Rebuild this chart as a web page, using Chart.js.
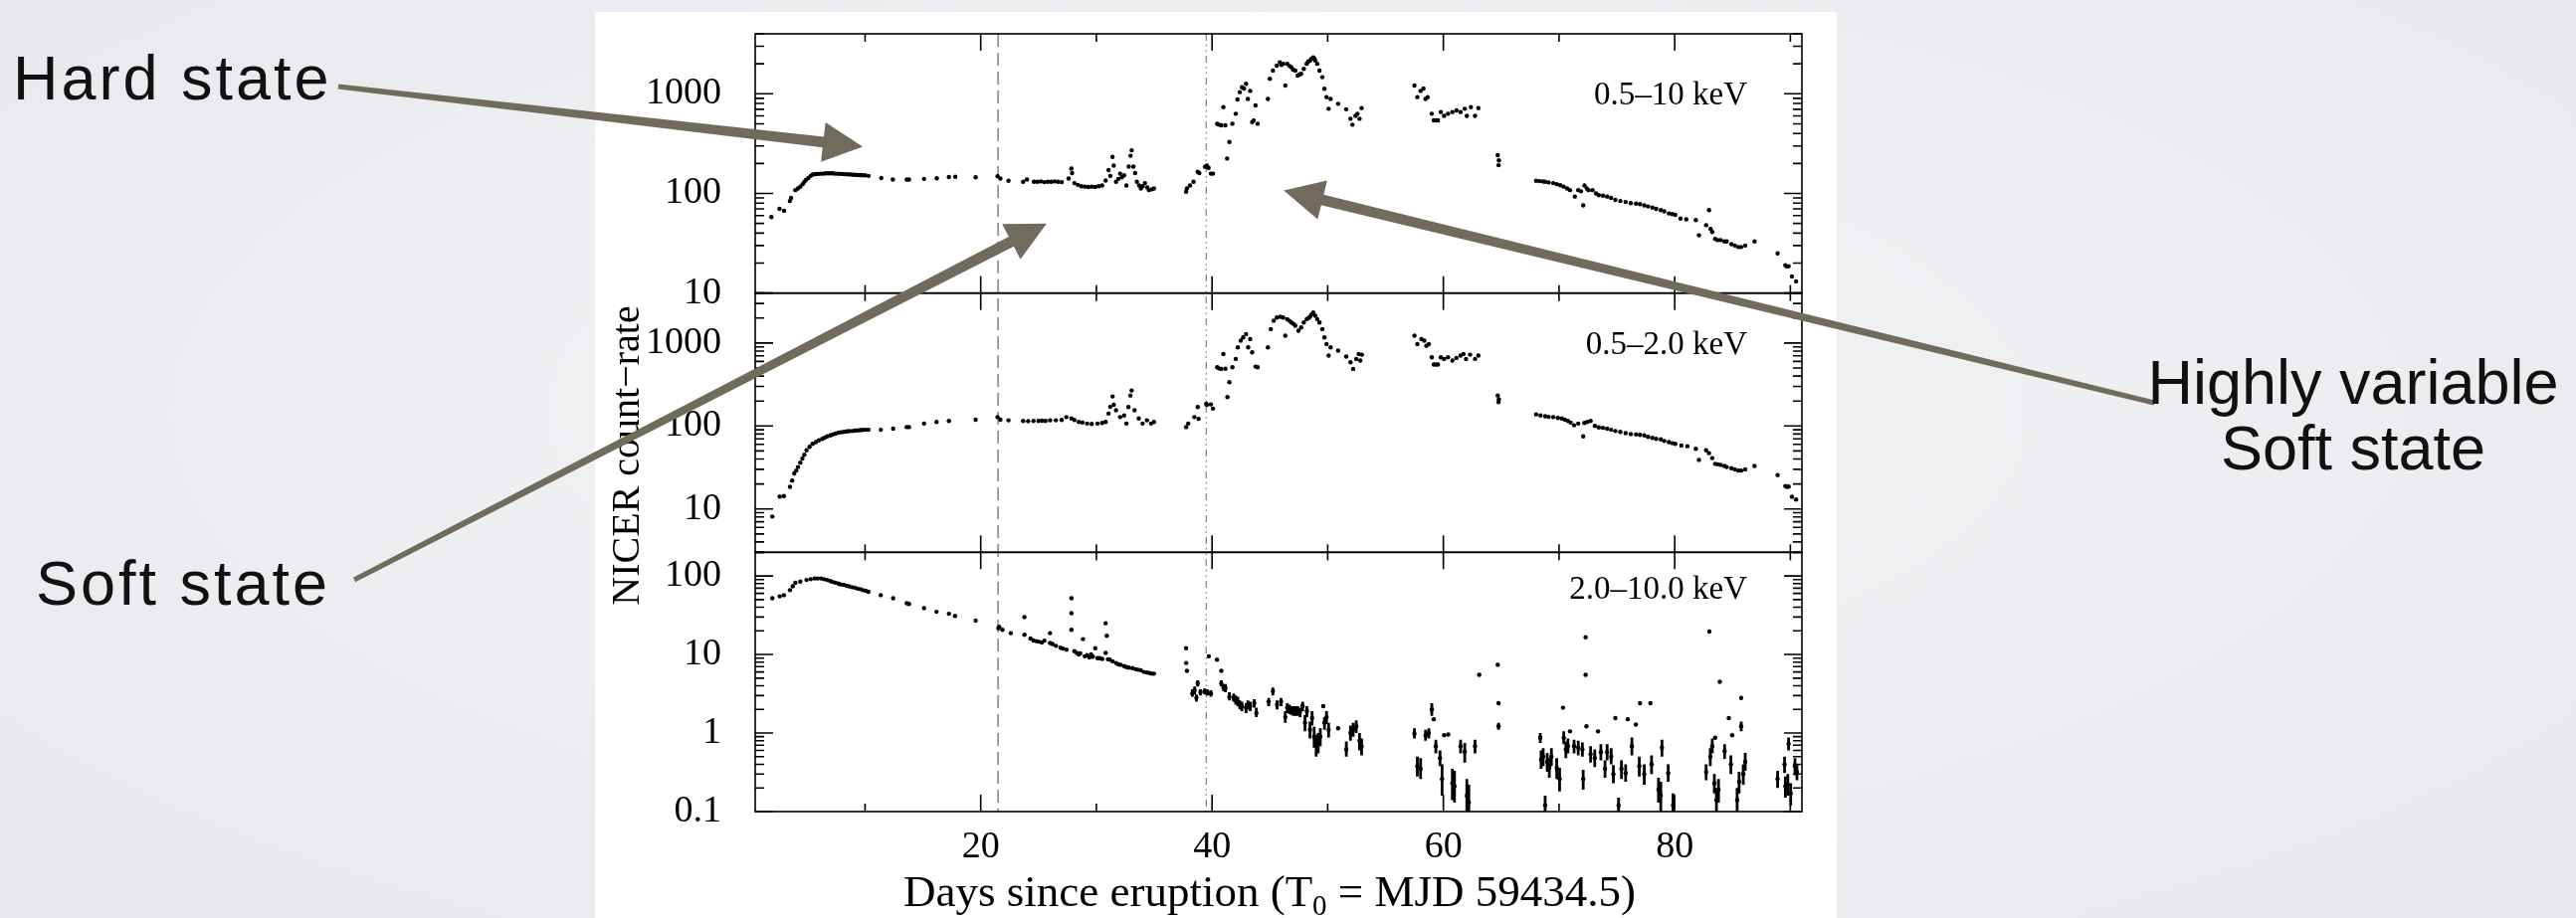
<!DOCTYPE html>
<html>
<head>
<meta charset="utf-8">
<script src="https://cdn.jsdelivr.net/npm/chart.js@4.4.1/dist/chart.umd.min.js"></script>
<style>
  html, body { margin: 0; padding: 0; }
  body {
    width: 2589px; height: 923px; overflow: hidden; position: relative;
    background: radial-gradient(ellipse at 50% 45%, #f3f4f6 0%, #e6e8eb 100%);
    font-family: "Liberation Sans", Arial, sans-serif;
  }
  #sheet { position: absolute; left: 598px; top: 12px; width: 1248px; height: 911px; background: #fff; }
  #lc { position: absolute; left: 0; top: 0; }
  .note { position: absolute; font-size: 63px; line-height: 63px; color: #111; white-space: nowrap; }
  .right { left: 2065px; width: 600px; text-align: center; line-height: 66px; top: 351px; }
</style>
</head>
<body>
<div id="sheet"></div>
<canvas id="lc" width="2589" height="923"></canvas>
<div class="note" style="left:13px; top:47px; letter-spacing:3px">Hard state</div>
<div class="note" style="left:36px; top:555px; letter-spacing:3px">Soft state</div>
<div class="note right">Highly variable<br>Soft state</div>
<script>
// NICER light curves, [day since eruption, count rate]
const band1 = [
  [1.9,58],[2.6,70],[3.0,67],[3.5,84],[3.6,90],[3.97,108],[4.2,112],[4.4,117],[4.6,124],[4.76,131],[4.9,137],[5.1,143],
  [5.3,150],[5.47,155],[5.65,156],[5.83,157],[6.0,157],[6.2,158],[6.4,158],[6.6,159],[6.8,159],[7.0,159],[7.2,159],
  [7.4,158],[7.6,158],[7.8,157],[8.0,157],[8.2,156],[8.4,156],[8.6,155],[8.8,155],[9.0,154],[9.2,154],[9.4,153],
  [9.6,153],[9.8,152],[10.0,152],[10.3,150],
  [11.4,143],[12.4,138],[13.6,138],[13.8,138],[15.1,140],[16.2,142],[17.25,146],[17.8,147],[19.56,145],[21.46,149],
  [21.7,141],[22.4,134],[23.67,131],[24.0,138],[24.6,131],[24.9,131],[25.2,132],[25.5,130],[25.8,131],[26.1,131],
  [26.4,132],[26.7,131],[27.0,130],[27.6,141],[27.84,178],[27.9,160],[28.1,127],[28.4,122],[28.7,118],[29.0,117],
  [29.3,116],[29.6,117],[29.9,116],[30.2,118],[30.5,120],[30.8,135],[31.05,172],[31.2,150],[31.4,233],[31.5,190],
  [31.7,131],[31.9,140],[32.05,158],[32.2,145],[32.4,152],[32.6,120],[32.8,186],[32.95,239],[33.05,271],[33.2,186],
  [33.35,160],[33.5,131],[33.7,120],[33.85,112],[34.0,118],[34.2,127],[34.4,115],[34.55,108],[34.8,110],[34.98,112],
  [37.76,104],[37.83,112],[38.1,120],[38.4,131],[38.76,165],[38.9,160],[39.4,185],[39.55,190],[39.7,181],[39.9,158],
  [40.08,158],
  [40.44,500],[40.6,490],[40.8,482],[40.98,736],[41.15,482],[41.3,224],[41.5,329],[41.76,501],[42.05,631],[42.2,878],
  [42.4,1039],[42.58,1166],[42.76,1130],[42.94,1259],[43.1,887],[43.3,1069],[43.47,521],[43.6,540],[43.76,764],
  [43.94,501],
  [44.83,887],[45.0,1413],[45.26,1711],[45.6,1920],[45.86,2074],[46.0,1950],[46.15,2000],[46.33,1211],[46.5,2000],
  [46.7,1900],[46.86,1848],[47.0,1750],[47.2,1711],[47.4,1525],[47.55,1560],[47.7,1585],[47.93,1778],[48.18,2000],
  [48.3,2100],[48.47,2154],[48.6,2250],[48.75,2326],[48.85,2250],[48.93,2154],[49.1,2000],[49.29,1711],[49.54,1468],
  [49.72,1122],[49.9,926],[50.08,708],[50.25,887],[50.9,794],[51.6,700],[51.97,562],[52.14,490],[52.4,600],
  [52.57,631],[52.75,562],[52.93,719],
  [57.5,1211],[57.75,926],[58.03,1069],[58.28,1130],[58.46,887],[58.64,926],[59.0,631],[59.17,541],[59.35,541],
  [59.53,541],[59.78,656],[60.06,600],[60.4,631],[60.78,656],[61.13,681],[61.49,656],[61.85,708],[62.03,600],
  [62.38,736],[62.74,600],[63.03,719],
  [64.7,242],[64.77,192],[64.8,215],
  [68.02,134],[68.3,133],[68.6,132],[68.8,131],[69.1,129],[69.5,127],[69.8,124],[70.1,121],[70.4,117],[70.7,112],
  [70.95,108],[71.37,93],[71.66,108],[71.9,105],[72.09,76],[72.2,120],[72.4,112],[72.55,108],[72.9,108],[73.2,100],
  [73.44,96],[73.8,95],[74.16,93],[74.5,90],[74.87,86],[75.3,84],[75.76,82],[76.2,80],[76.65,79],[77.0,78],
  [77.37,76],[77.7,74],[78.08,72],[78.4,70],[78.8,68],[79.1,66],[79.5,63],[79.8,62],[80.05,61],[80.5,56],[81.0,55],
  [81.83,54],[82.1,38],[82.72,48],[82.97,68],[83.1,44],[83.25,41],[83.5,35],[83.7,34],[83.97,34],[84.3,33],[84.5,33],
  [84.9,31],[85.2,30],[85.5,29],[85.75,29],[86.1,30],[86.9,33],[88.9,25],[89.57,19],[89.7,18.5],[89.85,18.6],
  [90.14,14.7],[90.5,13.1]
];

const band2 = [
  [1.98,8.1],[2.62,14.1],[2.98,14.3],[3.51,18.5],[3.7,22],[3.87,26.8],[4.05,29],[4.2,32],[4.4,36],[4.58,40.5],
  [4.75,45],[4.94,51],[5.2,56],[5.47,61],[5.75,64],[6.0,67],[6.3,70],[6.5,72],[6.72,75],[7.0,77],[7.2,79],[7.44,81],
  [7.7,83],[7.9,84],[8.15,85],[8.4,86],[8.6,86.5],[8.86,87],[9.1,88],[9.35,88.5],[9.58,89],[9.8,89.5],[10.05,90],
  [10.29,90],
  [11.36,90],[12.43,93],[13.6,97],[13.8,97],[15.1,107],[16.18,112],[17.25,115],[19.56,119],[21.46,128],[21.7,119],
  [22.4,117],[23.67,115],[24.1,114],[24.56,115],[25.0,115],[25.3,116],[25.6,115],[26.0,117],[26.5,117],[27.0,118],
  [27.4,128],[27.84,123],[28.1,118],[28.48,112],[28.8,110],[29.2,107],[29.6,106],[30.1,107],[30.5,109],[30.8,112],
  [31.05,141],[31.2,170],[31.4,227],[31.5,180],[31.7,155],[32.05,128],[32.4,134],[32.6,107],[32.77,169],[32.94,233],
  [33.05,268],[33.3,155],[33.66,123],[34.0,107],[34.37,117],[34.73,107],[34.98,112],
  [37.76,97],[37.94,107],[38.47,128],[38.76,169],[38.84,122],[39.5,185],[39.55,180],[39.9,182],[40.08,162],
  [40.44,510],[40.6,495],[40.8,488],[40.98,738],[41.16,490],[41.33,223],[41.5,337],[41.76,510],[42.05,643],
  [42.23,887],[42.48,1067],[42.69,1170],[42.94,1282],[43.12,887],[43.3,1117],[43.47,773],[43.76,520],[43.94,510],
  [44.83,887],[45.08,1472],[45.33,1854],[45.6,2032],[45.9,2070],[46.15,2032],[46.33,1225],[46.5,1940],[46.7,1850],
  [46.86,1770],[47.05,1700],[47.2,1614],[47.47,1406],[47.7,1540],[47.93,1770],[48.18,1940],[48.35,2000],[48.47,2070],
  [48.6,2200],[48.75,2333],[48.93,2128],[49.1,1940],[49.29,1770],[49.54,1472],[49.72,1170],[49.9,973],[50.08,705],
  [50.25,887],[50.9,809],[51.6,686],[51.97,586],[52.2,488],[52.47,643],[52.68,738],[52.82,614],[52.96,724],
  [57.5,1225],[57.75,973],[58.1,1117],[58.35,1067],[58.53,926],[58.74,973],[59.0,673],[59.17,550],[59.35,550],
  [59.53,550],[59.78,673],[60.06,643],[60.4,673],[60.78,614],[61.13,661],[61.49,705],[61.74,738],[61.96,643],
  [62.31,724],[62.74,643],[63.03,705],
  [64.7,233],[64.77,194],[64.8,210],
  [68.02,138],[68.4,134],[68.8,131],[69.1,129],[69.5,128],[69.9,125],[70.24,123],[70.5,119],[70.77,115],[71.0,110],
  [71.3,102],[71.66,107],[72.09,75],[72.2,109],[72.45,112],[72.73,115],[73.1,100],[73.44,96],[73.8,95],[74.16,93],
  [74.5,90],[74.87,87],[75.3,85],[75.76,82],[76.2,80],[76.65,79],[77.0,78],[77.37,77],[77.7,74],[78.08,72],[78.4,70],
  [78.8,69],[79.1,66],[79.5,64],[79.8,62],[80.05,61],[80.58,58],[81.1,57],[81.83,53],[82.1,39],[82.72,51],[82.97,47],
  [83.25,41],[83.5,35],[83.7,34.5],[83.97,34],[84.3,33],[84.5,32],[84.9,31],[85.2,30],[85.5,29],[85.75,29],[86.1,30],
  [86.9,33],[88.9,25.6],[89.57,18.9],[89.7,18.5],[89.85,18.6],[90.14,14],[90.5,13]
];

// hard band: [day, rate] or [day, rate, errLow, errHigh]
const band3 = [
  [1.98,52],[2.62,55],[2.98,57],[3.51,66],[3.75,74],[3.97,82],[4.4,85],[4.94,89],[5.3,91],[5.65,93],[5.9,93],
  [6.19,93],[6.45,91],[6.72,89],[7.0,86],[7.2,84],[7.44,82],[7.7,80],[7.9,78],[8.15,77],[8.4,75],[8.6,74],[8.86,72],
  [9.1,71],[9.35,69],[9.58,68],[9.8,66],[10.05,65],[10.29,63],
  [11.36,57],[12.43,52],[13.6,45],[13.8,44],[15.1,39],[16.18,35],[17.25,33],[17.78,31],[19.56,27],[21.53,21.6],
  [21.6,22.5],[21.88,20.6],[22.6,18.7],[23.78,30],[23.78,17.8],[24.3,16],[24.56,15.1],[24.8,14.8],[25.0,14.6],
  [25.28,14.2],[25.5,15],[25.99,18.7],[25.99,14],[26.2,13.6],[26.5,12.9],[26.9,12.2],[27.1,11.9],[27.41,11.5],
  [27.84,52],[27.84,33.6],[27.84,20.6],[28.1,11],[28.3,10.5],[28.48,10],[28.6,10.3],[28.84,15.7],[29.0,9.5],[29.2,9.8],
  [29.4,9.2],[29.55,10],[29.7,9.4],[29.9,12],[30.1,9.0],[30.27,9],[30.5,8.8],[30.8,25],[30.8,10.5],[30.9,17.3],
  [31.0,8.7],[31.16,8.6],[31.4,8.2],[31.7,7.8],[31.9,7.5],[32.1,7.4],[32.4,7.1],[32.6,6.9],[32.8,6.8],[33.12,6.7],
  [33.4,6.5],[33.6,6.4],[33.84,6.3],[34.1,6.0],[34.37,5.9],[34.6,5.8],[34.8,5.7],[34.98,5.7],
  [37.76,12],[37.76,7.8],[37.83,6.2],[38.3,3.2,2.9,3.6],[38.5,3.5,3.1,3.9],[38.65,2.8,2.5,3.1],[38.76,4.3,3.9,4.7],
  [39.0,3.3,3.0,3.6],[39.36,3.4,3.1,3.7],[39.6,3.3,3.0,3.6],[39.72,9.5],[39.9,3.2,2.9,3.5],[40.43,8.6],[40.8,6.2],
  [40.8,4.3,3.9,4.7],[41.0,3.8,3.4,4.2],[41.16,3.75,3.3,4.2],[41.5,2.9,2.6,3.3],[41.87,2.8,2.5,3.2],[42.05,2.6,2.3,3.0],
  [42.23,2.5,2.2,2.9],[42.4,2.3,2.0,2.6],[42.58,2.2,1.9,2.5],[42.94,2.1,1.8,2.4],[43.1,2.3,2.0,2.6],[43.3,2.2,1.9,2.5],
  [43.65,2.4,2.1,2.7],[43.83,1.8,1.6,2.1],[44.9,2.5,2.2,2.8],[45.26,3.4,3.0,3.8],[45.62,2.3,2.0,2.6],[45.97,2.5,2.2,2.8],
  [46.33,1.6,1.35,1.9],[46.5,2.1,1.8,2.4],[46.69,2.0,1.75,2.3],[46.86,1.95,1.7,2.2],[47.04,1.9,1.65,2.2],
  [47.2,1.9,1.65,2.2],[47.4,1.9,1.65,2.2],[47.6,1.85,1.6,2.1],[47.83,2.2,1.9,2.5],[48.04,1.35,1.05,1.7],
  [48.2,1.9,1.6,2.2],[48.47,1.1,0.85,1.4],[48.65,1.55,1.25,1.9],[48.83,0.9,0.65,1.2],[49.0,0.68,0.5,0.95],
  [49.18,0.75,0.55,1.0],[49.36,0.9,0.68,1.15],[49.61,2.2],[49.72,1.35,1.1,1.6],[49.9,1.6,1.3,1.9],[50.08,1.1,0.88,1.35],
  [50.9,1.15],[51.61,0.62,0.5,0.78],[51.97,1.0,0.8,1.25],[52.2,1.1,0.9,1.35],[52.47,1.22,1.0,1.45],[52.75,0.8,0.6,1.0],
  [52.93,0.68,0.52,0.85],
  [57.5,0.98,0.85,1.15],[57.75,0.38,0.28,0.5],[58.03,0.35,0.26,0.48],[58.46,0.94,0.8,1.1],[58.74,1.0,0.85,1.15],
  [59.0,2.0,1.65,2.4],[59.17,1.5],[59.35,0.68,0.55,0.82],[59.71,0.48,0.38,0.6],[59.89,0.26,0.16,0.4],[60.07,0.94],
  [60.42,0.96],[60.78,0.23,0.14,0.35],[60.96,0.21,0.13,0.33],[61.49,0.68,0.55,0.82],[61.85,0.58,0.42,0.75],
  [62.03,0.16,0.1,0.26],[62.2,0.13,0.08,0.22],[62.74,0.68,0.55,0.82],[63.1,5.5],[64.7,7.4],[64.77,2.4],
  [64.77,1.22,1.1,1.35],
  [68.38,0.87,0.75,1.0],[68.45,0.46,0.35,0.6],[68.63,0.5,0.38,0.64],[68.8,0.12,0.08,0.16],[68.98,0.43,0.32,0.56],
  [69.16,0.36,0.27,0.48],[69.34,0.5,0.38,0.64],[69.8,0.36,0.26,0.48],[70.05,0.26,0.18,0.36],[70.34,2.1],
  [70.41,0.87,0.72,1.05],[70.59,0.62,0.48,0.78],[70.77,0.68,0.55,0.85],[70.95,1.05],[71.3,0.68,0.55,0.82],
  [71.66,0.65,0.52,0.8],[72.02,0.62,0.5,0.76],[72.09,0.26,0.19,0.34],[72.3,5.5],[72.3,16.6],[72.37,1.22],
  [72.73,0.54,0.42,0.68],[73.09,0.48,0.37,0.62],[73.37,1.05],[73.62,0.57,0.45,0.72],[73.98,0.35,0.27,0.45],
  [74.16,0.57,0.45,0.72],[74.51,0.5,0.4,0.64],[74.7,0.3,0.23,0.39],[74.87,1.55],[75.15,0.12,0.09,0.15],
  [75.4,0.35,0.26,0.45],[75.76,0.31,0.24,0.4],[75.94,1.5],[76.3,0.68,0.52,0.88],[76.65,1.28],[76.94,0.38,0.28,0.5],
  [77.0,2.4],[77.37,0.3,0.22,0.4],[77.9,2.4],[78.0,0.4,0.3,0.52],[78.6,0.19,0.13,0.27],[78.8,0.16,0.1,0.24],
  [78.9,0.65,0.5,0.82],[79.44,0.31,0.24,0.4],[79.86,0.12,0.08,0.17],
  [82.72,0.32,0.25,0.4],[83.0,19.6],[83.08,0.5,0.38,0.64],[83.25,0.68,0.55,0.85],[83.43,0.23,0.17,0.3],[83.5,0.87],
  [83.61,0.14,0.09,0.2],[83.79,0.19,0.13,0.26],[83.9,4.5],[84.32,0.59,0.47,0.72],[84.68,1.55],[84.86,0.4,0.3,0.52],
  [84.97,0.94],[85.4,0.14,0.09,0.2],[85.57,0.24,0.17,0.32],[85.75,1.22,1.05,1.4],[85.75,2.8],[85.93,0.3,0.22,0.4],
  [86.1,0.43,0.33,0.56],
  [88.9,0.26,0.2,0.33],[89.5,0.4,0.31,0.5],[89.57,0.21,0.15,0.28],[89.78,0.22,0.16,0.3],[89.85,0.73,0.6,0.88],
  [90.03,0.17,0.12,0.23],[90.4,0.38,0.29,0.48],[90.57,0.32,0.25,0.4]
];

const bandLabels = ['0.5\u201310 keV', '0.5\u20132.0 keV', '2.0\u201310.0 keV'];
const bandLabelAt = [1000, 1000, 70];
const yRanges = [[10, 4000], [3, 4000], [0.1, 200]];
const yLabelTicks = [[10, 100, 1000], [10, 100, 1000], [0.1, 1, 10, 100]];
const xLabelTicks = [20, 40, 60, 80];
const dayRange = [0.5, 91];
const stateLines = [21.5, 39.5]; // dashed, dash-dot

// arrows: tail in page pixels, tip in data coords of the top panel
const arrowNotes = [
  { from: [340, 87], day: 9.8, rate: 295 },
  { from: [356, 583], day: 25.7, rate: 50 },
  { from: [2165, 405], day: 46.2, rate: 107 }
];

const serif = '"Liberation Serif", "Times New Roman", serif';
const panelIds = ['y1', 'y2', 'y3'];

function noPad(s) {
  s.paddingTop = 0; s.paddingBottom = 0; s.paddingLeft = 0; s.paddingRight = 0;
}

const scales = {
  x: {
    type: 'linear', position: 'bottom', min: dayRange[0], max: dayRange[1],
    grid: { display: false, drawTicks: false }, border: { display: false },
    ticks: { font: { family: serif, size: 38 }, color: '#000', padding: 13, maxRotation: 0, autoSkip: false },
    afterBuildTicks: s => { s.ticks = xLabelTicks.map(v => ({ value: v })); },
    afterFit: s => { s.height = 107; noPad(s); }
  }
};
panelIds.forEach((id, i) => {
  scales[id] = {
    type: 'logarithmic', position: 'left', stack: 'rate', stackWeight: 1, weight: 3 - i,
    min: yRanges[i][0], max: yRanges[i][1], offset: false,
    grid: { display: false, drawTicks: false }, border: { display: false },
    ticks: { font: { family: serif, size: 38 }, color: '#000', padding: 34, autoSkip: false,
             callback: v => String(v) },
    afterBuildTicks: s => { s.ticks = yLabelTicks[i].map(v => ({ value: v })); },
    afterFit: s => { s.width = 160; noPad(s); }
  };
});

function minorValues(min, max) {
  const out = [];
  for (let e = Math.floor(Math.log10(min)); e <= Math.ceil(Math.log10(max)); e++) {
    for (let m = 1; m <= 9; m++) {
      const v = m * Math.pow(10, e);
      if (v >= min * 0.999 && v <= max * 1.001) out.push({ v, major: m === 1 });
    }
  }
  return out;
}

function vline(ctx, px, top, bot) {
  ctx.beginPath(); ctx.moveTo(px, top); ctx.lineTo(px, bot); ctx.stroke();
}

function drawArrow(ctx, tail, tip) {
  const dx = tip[0] - tail[0], dy = tip[1] - tail[1];
  const len = Math.hypot(dx, dy);
  const ux = dx / len, uy = dy / len, nx = -uy, ny = ux;
  const headLen = 40, headHalf = 20, wTail = 2.5, wBase = 5.5;
  const bx = tip[0] - ux * headLen, by = tip[1] - uy * headLen;
  ctx.beginPath();
  ctx.moveTo(tail[0] + nx * wTail, tail[1] + ny * wTail);
  ctx.lineTo(bx + nx * wBase, by + ny * wBase);
  ctx.lineTo(bx + nx * headHalf, by + ny * headHalf);
  ctx.lineTo(tip[0], tip[1]);
  ctx.lineTo(bx - nx * headHalf, by - ny * headHalf);
  ctx.lineTo(bx - nx * wBase, by - ny * wBase);
  ctx.lineTo(tail[0] - nx * wTail, tail[1] - ny * wTail);
  ctx.closePath();
  ctx.fill();
}

const decor = {
  id: 'decor',
  beforeDatasetsDraw(chart) {
    const ctx = chart.ctx, x = chart.scales.x;
    const top = chart.scales.y1.top, bot = chart.scales.y3.bottom;
    ctx.save();
    ctx.strokeStyle = '#8a8a8a';
    ctx.lineWidth = 1.6;
    ctx.setLineDash([13, 6]);
    vline(ctx, x.getPixelForValue(stateLines[0]), top, bot);
    ctx.lineWidth = 1.3;
    ctx.setLineDash([7, 4, 1.5, 4, 1.5, 4]);
    vline(ctx, x.getPixelForValue(stateLines[1]), top, bot);
    ctx.restore();
  },
  afterDatasetsDraw(chart) {
    const ctx = chart.ctx, x = chart.scales.x;
    const panels = panelIds.map(id => chart.scales[id]);
    const y3 = panels[2];

    // error bars of the hard band
    ctx.save();
    ctx.beginPath();
    ctx.rect(x.left, y3.top, x.right - x.left, y3.bottom - y3.top);
    ctx.clip();
    ctx.strokeStyle = '#000';
    ctx.lineWidth = 2.8;
    band3.forEach(r => {
      if (r.length === 4) vline(ctx, x.getPixelForValue(r[0]), y3.getPixelForValue(r[2]), y3.getPixelForValue(r[3]));
    });
    ctx.restore();

    // frames and inward ticks
    ctx.save();
    ctx.strokeStyle = '#000';
    ctx.lineWidth = 1.6;
    panels.forEach((s, i) => {
      ctx.strokeRect(x.left, s.top, x.right - x.left, s.bottom - s.top);
      for (let d = 10; d <= 90; d += 10) {
        const px = x.getPixelForValue(d), len = d % 20 === 0 ? 17 : 8;
        vline(ctx, px, s.top, s.top + len);
        vline(ctx, px, s.bottom, s.bottom - len);
      }
      minorValues(yRanges[i][0], yRanges[i][1]).forEach(t => {
        const py = s.getPixelForValue(t.v), len = t.major ? 18 : 9;
        ctx.beginPath();
        ctx.moveTo(x.left, py); ctx.lineTo(x.left + len, py);
        ctx.moveTo(x.right, py); ctx.lineTo(x.right - len, py);
        ctx.stroke();
      });
      // band label
      ctx.fillStyle = '#000';
      ctx.font = '33px ' + serif;
      ctx.textAlign = 'right';
      ctx.textBaseline = 'alphabetic';
      ctx.fillText(bandLabels[i], x.right - 55, s.getPixelForValue(bandLabelAt[i]) + 11);
    });
    ctx.restore();
  },
  afterDraw(chart) {
    const ctx = chart.ctx, x = chart.scales.x;
    const top = chart.scales.y1.top, bot = chart.scales.y3.bottom;
    ctx.save();
    ctx.fillStyle = '#000';
    // y title
    ctx.save();
    ctx.translate(x.left - 130, (top + bot) / 2 + 33);
    ctx.rotate(-Math.PI / 2);
    ctx.font = '40px ' + serif;
    ctx.textAlign = 'center';
    ctx.textBaseline = 'alphabetic';
    ctx.fillText('NICER count\u2212rate', 0, 13);
    ctx.restore();
    // x title with subscript
    const a = 'Days since eruption (T', sub = '0', b = ' = MJD 59434.5)';
    const big = '45px ' + serif, small = '29px ' + serif;
    ctx.font = big;
    const wa = ctx.measureText(a).width, wb = ctx.measureText(b).width;
    ctx.font = small;
    const ws = ctx.measureText(sub).width;
    let tx = (x.left + x.right) / 2 - 9 - (wa + ws + wb) / 2;
    const base = 911;
    ctx.textAlign = 'left';
    ctx.font = big; ctx.fillText(a, tx, base); tx += wa;
    ctx.font = small; ctx.fillText(sub, tx, base + 9); tx += ws;
    ctx.font = big; ctx.fillText(b, tx, base);
    // annotation arrows
    ctx.fillStyle = '#706b5c';
    const y1 = chart.scales.y1;
    arrowNotes.forEach(n => drawArrow(ctx, n.from, [x.getPixelForValue(n.day), y1.getPixelForValue(n.rate)]));
    ctx.restore();
  }
};

new Chart(document.getElementById('lc'), {
  type: 'scatter',
  data: {
    datasets: [band1, band2, band3].map((rows, i) => ({
      data: rows.map(r => ({ x: r[0], y: r[1] })),
      xAxisID: 'x',
      yAxisID: panelIds[i],
      pointRadius: 2.2,
      pointBackgroundColor: '#000',
      pointBorderWidth: 0,
      showLine: false
    }))
  },
  options: {
    responsive: false,
    animation: false,
    devicePixelRatio: 1,
    events: [],
    layout: { padding: { left: 599, right: 778, top: 34, bottom: 0 } },
    plugins: { legend: { display: false }, tooltip: { enabled: false } },
    scales: scales
  },
  plugins: [decor]
});
</script>
</body>
</html>
